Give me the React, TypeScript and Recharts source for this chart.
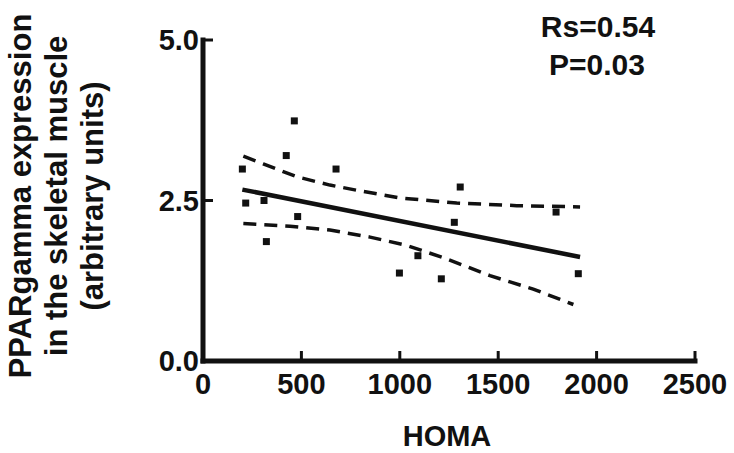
import React from "react";
import { ScatterChart, Scatter, XAxis, YAxis } from "recharts";

// HOMA (x) vs PPARgamma expression (y)
const homa = [200, 217, 310, 322, 423, 464, 481, 676, 998, 1092, 1211, 1277, 1307, 1794, 1907];
const ppar = [2.99, 2.46, 2.5, 1.86, 3.2, 3.74, 2.25, 2.99, 1.37, 1.64, 1.28, 2.16, 2.71, 2.32, 1.36];

// regression line end points
const fitX = [200, 1916];
const fitY = [2.67, 1.62];

// 95% confidence band
const upperX = [205, 306, 476, 645, 815, 1001, 1289, 1594, 1916];
const upperY = [3.19, 3.07, 2.87, 2.74, 2.64, 2.54, 2.46, 2.42, 2.4];
const lowerX = [205, 442, 645, 849, 1035, 1221, 1458, 1678, 1882];
const lowerY = [2.14, 2.1, 2.04, 1.93, 1.8, 1.61, 1.33, 1.12, 0.88];

const xTicks = [0, 500, 1000, 1500, 2000, 2500];
const yTicks = [0, 2.5, 5];

const toPoints = (xs: number[], ys: number[]) => xs.map((x, i) => ({ x, y: ys[i] }));

const points = toPoints(homa, ppar);
const fit = toPoints(fitX, fitY);
const upper = toPoints(upperX, upperY);
const lower = toPoints(lowerX, lowerY);

const FONT = '"Liberation Sans", Arial, sans-serif';

const Square = (p: any) => (
  <rect x={p.cx - 3.5} y={p.cy - 3.5} width={7} height={7} fill="#111" />
);
const NoDot = () => <g />;

function YTitle() {
  const cy = 196;
  const lines = [
    { x: 31, t: "PPARgamma expression" },
    { x: 67, t: "in the skeletal muscle" },
    { x: 103, t: "(arbitrary units)" },
  ];
  return (
    <g>
      {lines.map((l) => (
        <text
          key={l.t}
          x={l.x}
          y={cy}
          transform={`rotate(-90, ${l.x}, ${cy})`}
          textAnchor="middle"
          fontFamily={FONT}
          fontWeight="bold"
          fontSize={31}
          fill="#111"
        >
          {l.t}
        </text>
      ))}
    </g>
  );
}

function XTitle() {
  return (
    <text x={447} y={446} textAnchor="middle" fontFamily={FONT} fontWeight="bold" fontSize={29} fill="#111">
      HOMA
    </text>
  );
}

export default function App() {
  const axisStyle = { stroke: "#111", strokeWidth: 5, strokeLinecap: "square" as const };
  const tickStyle = { fontFamily: FONT, fontWeight: "bold", fontSize: 29, fill: "#111" };
  const dashed = { stroke: "#111", strokeWidth: 3.5, strokeDasharray: "13 8" };
  return (
    <div style={{ position: "absolute", left: 0, top: 0, width: 734, height: 453, background: "#fff" }}>
      <ScatterChart width={734} height={453} margin={{ top: 40, right: 39, bottom: 0, left: 143 }}>
        <XAxis
          type="number"
          dataKey="x"
          domain={[0, 2500]}
          ticks={xTicks}
          interval={0}
          height={92}
          axisLine={axisStyle}
          tickLine={{ stroke: "#111", strokeWidth: 3 }}
          tickSize={-10}
          tickMargin={22}
          tick={tickStyle}
          label={{ content: <XTitle /> }}
        />
        <YAxis
          type="number"
          dataKey="y"
          domain={[0, 5]}
          ticks={yTicks}
          interval={0}
          width={60}
          axisLine={axisStyle}
          tickLine={{ stroke: "#111", strokeWidth: 3 }}
          tickSize={-10}
          tickMargin={14}
          tick={tickStyle}
          tickFormatter={(v: number) => v.toFixed(1)}
          label={{ content: <YTitle /> }}
        />
        <Scatter data={upper} shape={NoDot} line={dashed} lineType="joint" isAnimationActive={false} />
        <Scatter data={lower} shape={NoDot} line={dashed} lineType="joint" isAnimationActive={false} />
        <Scatter
          data={fit}
          shape={NoDot}
          line={{ stroke: "#111", strokeWidth: 4.5 }}
          lineType="joint"
          isAnimationActive={false}
        />
        <Scatter data={points} shape={Square} isAnimationActive={false} />
      </ScatterChart>
      <svg width={734} height={453} style={{ position: "absolute", left: 0, top: 0, pointerEvents: "none" }}>
        <text x={598} y={37} textAnchor="middle" fontFamily={FONT} fontWeight="bold" fontSize={30} fill="#111">
          Rs=0.54
        </text>
        <text x={597} y={75} textAnchor="middle" fontFamily={FONT} fontWeight="bold" fontSize={30} fill="#111">
          P=0.03
        </text>
      </svg>
    </div>
  );
}
